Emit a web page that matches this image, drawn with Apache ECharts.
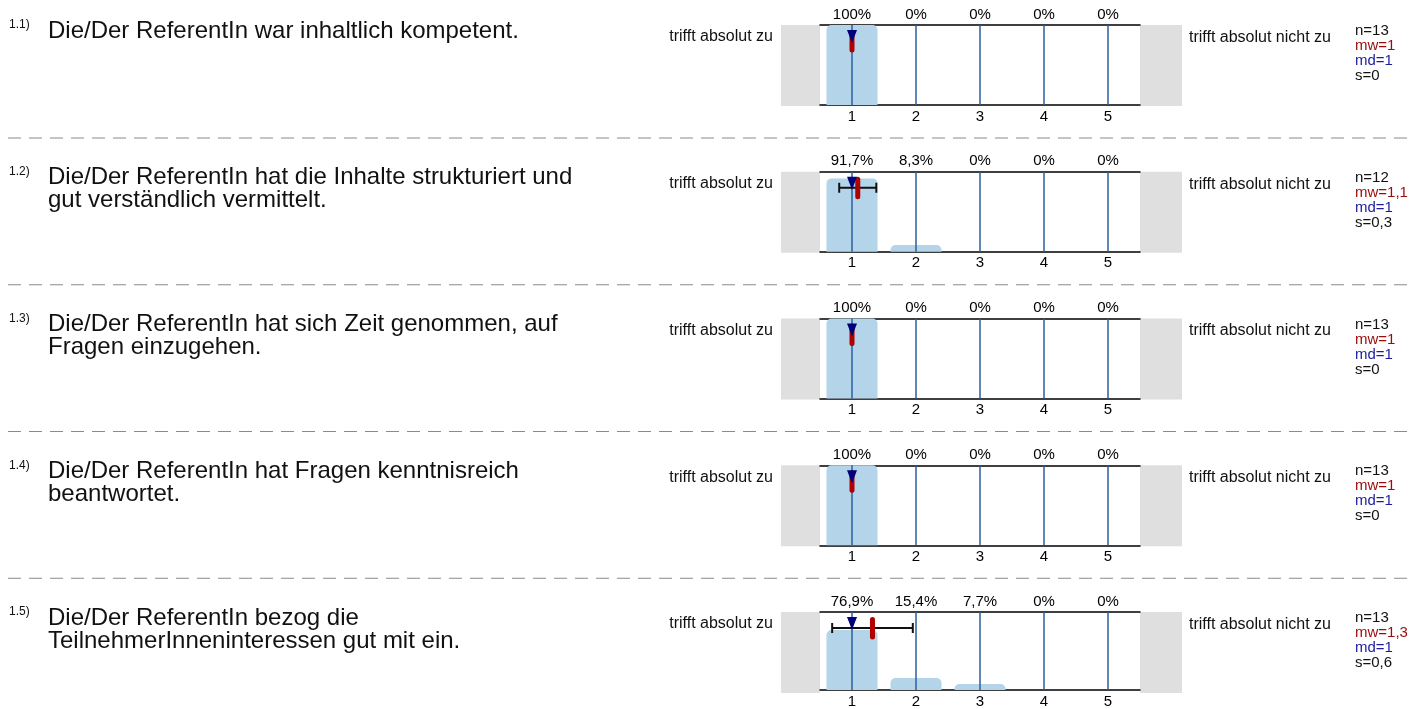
<!DOCTYPE html>
<html>
<head>
<meta charset="utf-8">
<script src="https://cdn.jsdelivr.net/npm/echarts@6/dist/echarts.min.js"></script>
<style>
html,body{margin:0;padding:0;background:#fff;}
#chart{width:1410px;height:709px;}
</style>
</head>
<body>
<div id="chart"></div>
<script>
// ---- data ----
const categories = ['1', '2', '3', '4', '5'];
const numbers = ['1.1)', '1.2)', '1.3)', '1.4)', '1.5)'];
const questions = [
  'Die/Der ReferentIn war inhaltlich kompetent.',
  'Die/Der ReferentIn hat die Inhalte strukturiert und\ngut verständlich vermittelt.',
  'Die/Der ReferentIn hat sich Zeit genommen, auf\nFragen einzugehen.',
  'Die/Der ReferentIn hat Fragen kenntnisreich\nbeantwortet.',
  'Die/Der ReferentIn bezog die\nTeilnehmerInneninteressen gut mit ein.'
];
const pct1 = [100, 0, 0, 0, 0];
const pct2 = [91.7, 8.3, 0, 0, 0];
const pct3 = [100, 0, 0, 0, 0];
const pct4 = [100, 0, 0, 0, 0];
const pct5 = [76.9, 15.4, 7.7, 0, 0];
const percents = [pct1, pct2, pct3, pct4, pct5];
const nValues = ['13', '12', '13', '13', '13'];
const mwLabels = ['1', '1,1', '1', '1', '1,3'];
const mdLabels = ['1', '1', '1', '1', '1'];
const sLabels = ['0', '0,3', '0', '0', '0,6'];
const meanValues = [1, 1.09, 1, 1, 1.32];
const medianValues = [1, 1, 1, 1, 1];
const sdValues = [0, 0.29, 0, 0, 0.63];
const leftLabel = 'trifft absolut zu';
const rightLabel = 'trifft absolut nicht zu';

// ---- layout ----
const FONT = '"Liberation Sans", Arial, Helvetica, sans-serif';
const panelTops = [25, 171.75, 318.5, 465.25, 612];
const plotLeft = 820, plotWidth = 320, plotHeight = 80;

const chart = echarts.init(document.getElementById('chart'), null, {renderer: 'canvas'});

const grids = [], xAxes = [], yAxes = [], series = [], graphics = [];
const fmtPct = v => String(v).replace('.', ',') + '%';

panelTops.forEach((top, i) => {
  grids.push({left: plotLeft, top: top, width: plotWidth, height: plotHeight});
  const axisLine = {show: true, lineStyle: {color: '#000', width: 1.5}};
  xAxes.push({
    type: 'category', gridIndex: i, data: categories, position: 'bottom',
    axisLine: axisLine, axisTick: {show: false}, splitLine: {show: false},
    axisLabel: {fontSize: 15, color: '#000', margin: 4, fontFamily: FONT}
  });
  xAxes.push({
    type: 'category', gridIndex: i, data: percents[i].map(fmtPct), position: 'top',
    axisLine: axisLine, axisTick: {show: false}, splitLine: {show: false},
    axisLabel: {fontSize: 15, color: '#000', margin: 3, fontFamily: FONT}
  });
  xAxes.push({type: 'value', gridIndex: i, min: 0.5, max: 5.5, show: false});
  yAxes.push({type: 'value', gridIndex: i, min: 0, max: 100, show: false});

  // bars
  series.push({
    type: 'bar', xAxisIndex: 3 * i, yAxisIndex: i, data: percents[i],
    barWidth: 51, silent: true, z: 1,
    itemStyle: {color: '#b4d4ea', borderRadius: [5, 5, 0, 0]}
  });
  // vertical lines at each scale point
  series.push({
    type: 'custom', xAxisIndex: 3 * i + 2, yAxisIndex: i, silent: true, z: 5,
    data: categories.map(Number),
    renderItem: (params, api) => {
      const p0 = api.coord([api.value(0), 0]);
      const p1 = api.coord([api.value(0), 100]);
      return {type: 'line', shape: {x1: p0[0], y1: p0[1], x2: p1[0], y2: p1[1]},
        style: {stroke: '#2a5f9e', lineWidth: 1.5}};
    }
  });
  // mean / median / sd markers
  series.push({
    type: 'custom', xAxisIndex: 3 * i + 2, yAxisIndex: i, silent: true, z: 8,
    data: [[meanValues[i], medianValues[i], sdValues[i]]],
    renderItem: (params, api) => {
      const mean = api.value(0), med = api.value(1), sd = api.value(2);
      const top = api.coord([mean, 100])[1];
      const mx = api.coord([mean, 100])[0];
      const dx = api.coord([med, 100])[0];
      const children = [];
      if (sd > 0) {
        const xl = api.coord([mean - sd, 100])[0];
        const xr = api.coord([mean + sd, 100])[0];
        const ey = top + 16;
        children.push({type: 'line', shape: {x1: xl, y1: ey, x2: xr, y2: ey}, style: {stroke: '#111', lineWidth: 2}});
        children.push({type: 'line', shape: {x1: xl, y1: ey - 5, x2: xl, y2: ey + 5}, style: {stroke: '#111', lineWidth: 2}});
        children.push({type: 'line', shape: {x1: xr, y1: ey - 5, x2: xr, y2: ey + 5}, style: {stroke: '#111', lineWidth: 2}});
      }
      children.push({type: 'line', shape: {x1: mx, y1: top + 7.5, x2: mx, y2: top + 25},
        style: {stroke: '#b00000', lineWidth: 5, lineCap: 'round'}});
      children.push({type: 'polygon', shape: {points: [[dx - 5, top + 5], [dx + 5, top + 5], [dx, top + 18]]},
        style: {fill: '#00007a'}});
      return {type: 'group', children: children};
    }
  });

  // grey end boxes
  graphics.push({type: 'rect', shape: {x: 781, y: top, width: 39, height: 81}, style: {fill: '#dfdfdf'}, z: -1});
  graphics.push({type: 'rect', shape: {x: 1140, y: top, width: 42, height: 81}, style: {fill: '#dfdfdf'}, z: -1});
  // left / right anchor labels
  graphics.push({type: 'text', x: 773, y: top + 12, style: {text: leftLabel, font: '16px ' + FONT, fill: '#111', align: 'right', verticalAlign: 'middle'}});
  graphics.push({type: 'text', x: 1189, y: top + 12.5, style: {text: rightLabel, font: '16px ' + FONT, fill: '#111', align: 'left', verticalAlign: 'middle'}});
  // question number + text
  graphics.push({type: 'text', x: 9, y: top, style: {text: numbers[i], font: '12px ' + FONT, fill: '#111', align: 'left', verticalAlign: 'middle'}});
  graphics.push({type: 'text', x: 48, y: top + 6 - 11.5, style: {text: questions[i], font: '24px ' + FONT, lineHeight: 23, fill: '#111', align: 'left', verticalAlign: 'top'}});
  // stats
  graphics.push({type: 'text', x: 1355, y: top - 1.5, style: {
    text: '{n|n=' + nValues[i] + '}\n{mw|mw=' + mwLabels[i] + '}\n{md|md=' + mdLabels[i] + '}\n{s|s=' + sLabels[i] + '}',
    font: '15px ' + FONT, lineHeight: 15, align: 'left', verticalAlign: 'top',
    rich: {
      n: {fill: '#111', fontSize: 15, fontFamily: FONT, lineHeight: 15},
      mw: {fill: '#9c0a0a', fontSize: 15, fontFamily: FONT, lineHeight: 15},
      md: {fill: '#1c1c9e', fontSize: 15, fontFamily: FONT, lineHeight: 15},
      s: {fill: '#111', fontSize: 15, fontFamily: FONT, lineHeight: 15}
    }
  }});
  // dashed separator
  if (i < panelTops.length - 1) {
    graphics.push({type: 'line', shape: {x1: 8, y1: top + 113, x2: 1410, y2: top + 113},
      style: {stroke: '#8a8a8a', lineWidth: 1.2, lineDash: [13, 8]}});
  }
});

chart.setOption({
  backgroundColor: '#fff',
  animation: false,
  textStyle: {fontFamily: FONT},
  grid: grids, xAxis: xAxes, yAxis: yAxes, series: series, graphic: graphics
});
</script>
</body>
</html>
